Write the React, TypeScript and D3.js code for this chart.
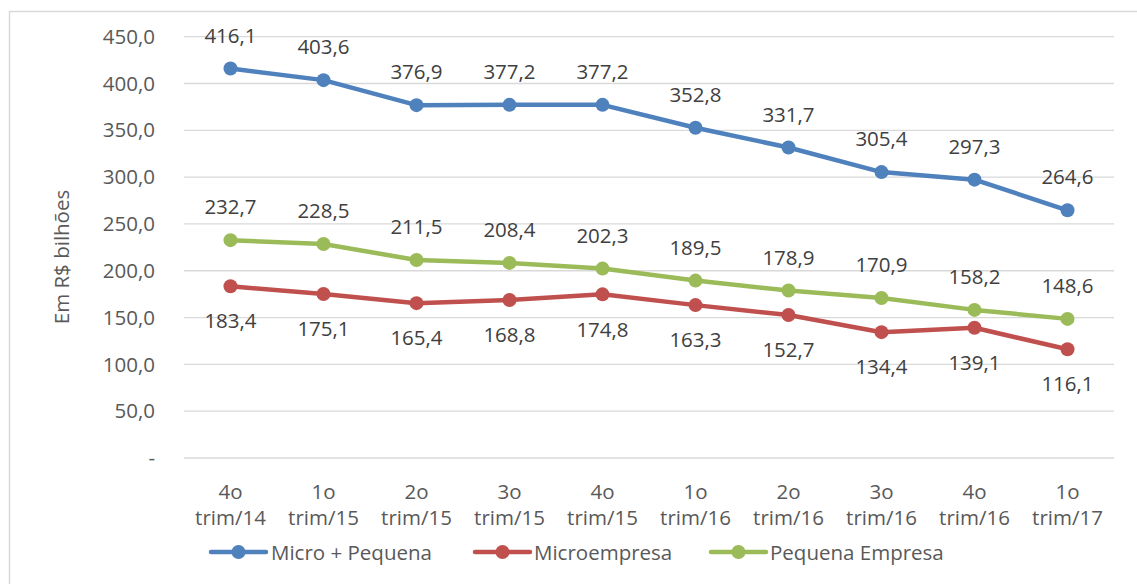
import React from "react";
import * as d3 from "d3";

const categories = [
  ["4o", "trim/14"],
  ["1o", "trim/15"],
  ["2o", "trim/15"],
  ["3o", "trim/15"],
  ["4o", "trim/15"],
  ["1o", "trim/16"],
  ["2o", "trim/16"],
  ["3o", "trim/16"],
  ["4o", "trim/16"],
  ["1o", "trim/17"],
];
const microPequena = [416.1, 403.6, 376.9, 377.2, 377.2, 352.8, 331.7, 305.4, 297.3, 264.6];
const microempresa = [183.4, 175.1, 165.4, 168.8, 174.8, 163.3, 152.7, 134.4, 139.1, 116.1];
const pequenaEmpresa = [232.7, 228.5, 211.5, 208.4, 202.3, 189.5, 178.9, 170.9, 158.2, 148.6];
const yTicks = [0, 50, 100, 150, 200, 250, 300, 350, 400, 450];

const seriesList = [
  { name: "Micro + Pequena", values: microPequena, color: "#4F81BD", labelPos: "above" },
  { name: "Microempresa", values: microempresa, color: "#C0504D", labelPos: "below" },
  { name: "Pequena Empresa", values: pequenaEmpresa, color: "#9BBB59", labelPos: "above" },
];

const W = 1137;
const H = 584;
const FONT = "'Open Sans', sans-serif";
const FS = 20.5;
const fmt = (v: number) => (v === 0 ? "-" : d3.format(".1f")(v).replace(".", ","));

export default function App() {
  const keys = categories.map((c, i) => String(i));
  const x = d3.scaleBand<string>().domain(keys).range([184, 1114]);
  const y = d3.scaleLinear().domain([0, 450]).range([458, 36.7]);
  const cx = (i: number) => (x(String(i)) as number) + x.bandwidth() / 2;
  const line = d3
    .line<number>()
    .x((_, i) => cx(i))
    .y((v) => y(v));

  const legendItems = [
    { lx: 211, tx: 271 },
    { lx: 475, tx: 534 },
    { lx: 711, tx: 770 },
  ];

  return (
    <svg
      width={W}
      height={H}
      style={{ position: "absolute", left: 0, top: 0, background: "#fff" }}
      fontFamily={FONT}
    >
      <rect x={0} y={0} width={W} height={H} fill="#fff" />
      <rect x={9.5} y={11.5} width={W + 20} height={H + 20} fill="none" stroke="#D9D9D9" strokeWidth={1.5} />

      {yTicks.map((t) => (
        <line key={t} x1={184} x2={1114} y1={y(t)} y2={y(t)} stroke="#D9D9D9" strokeWidth={1.3} />
      ))}

      {yTicks.map((t) => (
        <text key={"yt" + t} x={155} y={y(t)} dy="0.35em" textAnchor="end" fontSize={FS} fill="#595959">
          {fmt(t)}
        </text>
      ))}

      <text
        transform={`translate(62,257) rotate(-90)`}
        textAnchor="middle"
        fontSize={FS}
        fill="#595959"
        dy="0.35em"
      >
        Em R$ bilhões
      </text>

      {categories.map((c, i) => (
        <g key={"xl" + i}>
          <text x={cx(i)} y={491.5} dy="0.35em" textAnchor="middle" fontSize={FS} fill="#595959">
            {c[0]}
          </text>
          <text x={cx(i)} y={518} dy="0.35em" textAnchor="middle" fontSize={FS} fill="#595959">
            {c[1]}
          </text>
        </g>
      ))}

      {seriesList.map((s) => (
        <g key={s.name}>
          <path
            d={line(s.values) || ""}
            fill="none"
            stroke={s.color}
            strokeWidth={4.5}
            strokeLinejoin="round"
            strokeLinecap="round"
          />
          {s.values.map((v, i) => (
            <circle key={i} cx={cx(i)} cy={y(v)} r={7} fill={s.color} />
          ))}
        </g>
      ))}

      {seriesList.map((s) =>
        s.values.map((v, i) => (
          <text
            key={s.name + "l" + i}
            x={cx(i)}
            y={y(v) + (s.labelPos === "above" ? -33 : 35)}
            dy="0.35em"
            textAnchor="middle"
            fontSize={FS}
            fill="#404040"
          >
            {fmt(v)}
          </text>
        ))
      )}

      {seriesList.map((s, k) => (
        <g key={"lg" + s.name}>
          <line
            x1={legendItems[k].lx}
            x2={legendItems[k].lx + 55}
            y1={552}
            y2={552}
            stroke={s.color}
            strokeWidth={4.5}
            strokeLinecap="round"
          />
          <circle cx={legendItems[k].lx + 27.5} cy={552} r={7} fill={s.color} />
          <text x={legendItems[k].tx} y={553} dy="0.35em" fontSize={FS} fill="#595959">
            {s.name}
          </text>
        </g>
      ))}
    </svg>
  );
}
